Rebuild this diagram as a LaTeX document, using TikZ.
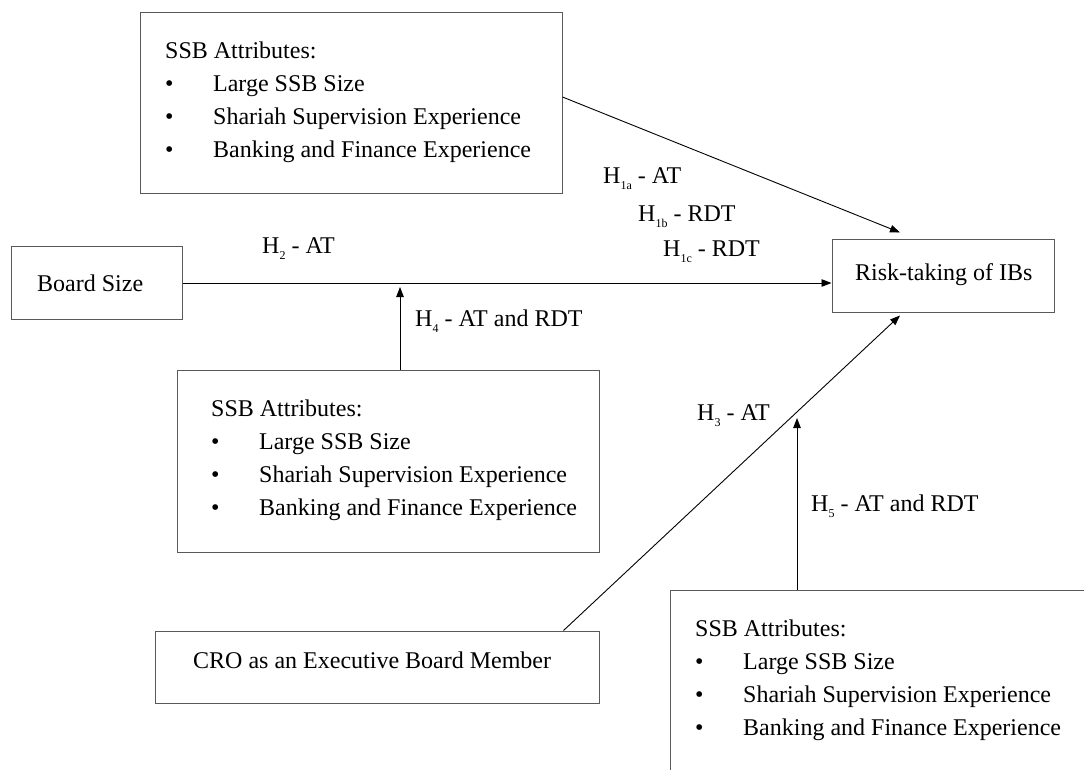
\documentclass[tikz,border=0pt]{standalone}
\usepackage{fontspec}
\setmainfont{Liberation Serif}
\usetikzlibrary{arrows.meta}

\newcommand{\hyp}[2]{H\raisebox{-6pt}{\fontsize{12}{12}\selectfont #1} - #2}
\newcommand{\ssbitem}[1]{\makebox[48pt][l]{\textbullet}#1}
\newcommand{\ssblist}{SSB Attributes:\\ \ssbitem{Large SSB Size}\\ \ssbitem{Shariah Supervision Experience}\\ \ssbitem{Banking and Finance Experience}}

\tikzset{
  box/.style={draw=black!65, line width=1pt, rectangle, inner sep=0pt},
  listtext/.style={anchor=north west, inner sep=0pt, align=left, font=\fontsize{24}{33}\selectfont},
  lbl/.style={anchor=base west, inner sep=0pt, font=\fontsize{24}{29}\selectfont},
  link/.style={line width=0.9pt, -{Triangle[length=10pt,width=7.5pt]}}
}

\begin{document}
\begin{tikzpicture}[x=1pt,y=-1pt]
\useasboundingbox (0,0) rectangle (1084,769);
\node[box, minimum width=422pt, minimum height=181pt] (topssb) at (351,102.5) {};
\node[listtext] (toptext) at (165,41.6) {\ssblist};
\node[box, minimum width=422pt, minimum height=182pt] (midssb) at (388,461) {};
\node[listtext] (midtext) at (211,399.6) {\ssblist};
\node[box, anchor=north west, minimum width=450pt, minimum height=200pt] (botssb) at (670,590) {};
\node[listtext] (bottext) at (695,619.6) {\ssblist};
\node[box, minimum width=171pt, minimum height=73pt] (board) at (96.5,283) {};
\node[lbl] (boardtext) at (37,291) {Board Size};
\node[box, minimum width=222pt, minimum height=73pt] (risk) at (943,275.5) {};
\node[lbl] (risktext) at (855,280) {Risk-taking of IBs};
\node[box, minimum width=444pt, minimum height=72pt] (cro) at (377,667) {};
\node[lbl] (crotext) at (193,668) {CRO as an Executive Board Member};
\coordinate (j4) at (400,287);
\coordinate (j5) at (797,418);
\draw[link] ([yshift=5.5pt]topssb.east) -- ([xshift=-43pt,yshift=6pt]risk.north);
\draw[link] (board.east) -- (board.east -| risk.west);
\draw[link] ([xshift=-36pt]cro.north east) -- ([xshift=-43pt,yshift=-3pt]risk.south);
\draw[link] (midssb.north -| j4) -- (j4);
\draw[link] (botssb.north -| j5) -- (j5);
\node[lbl] (h1a) at (603,183) {\hyp{1a}{AT}};
\node[lbl] (h1b) at (638,221) {\hyp{1b}{RDT}};
\node[lbl] (h1c) at (663,256) {\hyp{1c}{RDT}};
\node[lbl] (h2) at (262,253) {\hyp{2}{AT}};
\node[lbl] (h4) at (415,326) {\hyp{4}{AT and RDT}};
\node[lbl] (h3) at (697,420) {\hyp{3}{AT}};
\node[lbl] (h5) at (811,511) {\hyp{5}{AT and RDT}};
\end{tikzpicture}
\end{document}
